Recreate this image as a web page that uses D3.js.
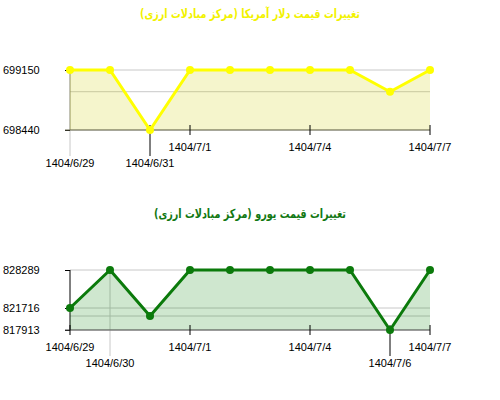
<!DOCTYPE html>
<html>
<head>
<meta charset="utf-8">
<script src="https://cdn.jsdelivr.net/npm/d3@7"></script>
<style>
  body { margin: 0; background: #fff; }
  svg { display: block; }
  text { font-family: "Liberation Sans", Arial, sans-serif; font-size: 11px; fill: #000; }
  .title { font-family: Tahoma, "DejaVu Sans", sans-serif; font-size: 12.5px; font-weight: bold; }
</style>
</head>
<body>
<svg id="chart" width="500" height="400"></svg>
<script>
// dates shared by both charts
const dates = ["1404/6/29", "1404/6/30", "1404/6/31", "1404/7/1", "1404/7/2",
               "1404/7/3", "1404/7/4", "1404/7/5", "1404/7/6", "1404/7/7"];

// dollar (top chart)
const usdTitle = "تغییرات قیمت دلار آمریکا (مرکز مبادلات ارزی)";
const usdValues = [699150, 699150, 698440, 699150, 699150, 699150, 699150, 699150, 698893, 699150];

// euro (bottom chart)
const eurTitle = "تغییرات قیمت یورو (مرکز مبادلات ارزی)";
const eurValues = [821716, 828289, 820334, 828289, 828289, 828289, 828289, 828289, 817913, 828289];

// regular x ticks every 3 days
const regularTicks = ["1404/6/29", "1404/7/1", "1404/7/4", "1404/7/7"];

const svg = d3.select("#chart");

const drawChart = ({ top, title, titleWidth, values, line, fill, titleColor, axisColor, leftColor }) => {
    const plotTop = top + 70, plotBottom = top + 130;
    const g = svg.append("g");

    const x = d3.scalePoint().domain(dates).range([70, 430]);
    const y = d3.scaleLinear().domain(d3.extent(values)).range([plotBottom, plotTop]);
    const data = dates.map((d, i) => ({ d, v: values[i] }));

    // title
    g.append("text").attr("class", "title")
        .attr("x", 250).attr("y", top + 18)
        .attr("text-anchor", "middle")
        .attr("direction", "rtl")
        .attr("textLength", titleWidth)
        .attr("lengthAdjust", "spacingAndGlyphs")
        .style("fill", titleColor)
        .text(title);

    // horizontal grid at every distinct value
    const distinct = Array.from(new Set(values));
    g.selectAll(".grid").data(distinct).join("line")
        .attr("x1", 70).attr("x2", 430)
        .attr("y1", d => y(d)).attr("y2", d => y(d))
        .attr("stroke", "#c8c8c8");

    // max / min positions
    const maxI = values.indexOf(d3.max(values));
    const minI = values.indexOf(d3.min(values));

    // left axis
    g.append("line")
        .attr("x1", 70).attr("x2", 70)
        .attr("y1", plotTop).attr("y2", plotBottom)
        .attr("stroke", leftColor);

    // gray leader from plot top for max
    g.append("line")
        .attr("x1", x(dates[maxI])).attr("x2", x(dates[maxI]))
        .attr("y1", maxI === 0 ? plotBottom : plotTop).attr("y2", plotBottom + 26)
        .attr("stroke", "#c8c8c8");

    // y ticks: first, last, max, min
    const yTicks = Array.from(new Set([values[0], values[values.length - 1], d3.max(values), d3.min(values)]));
    const yAxis = d3.axisLeft(y).tickValues(yTicks).tickSize(5).tickFormat(d3.format("d"));
    const ya = g.append("g").attr("transform", "translate(70,0)").call(yAxis);
    ya.select(".domain").remove();
    ya.selectAll("line").attr("stroke", "#000");
    ya.selectAll("text").attr("x", -67).attr("text-anchor", "start").attr("dy", "0.35em");

    // area
    const area = d3.area().x(d => x(d.d)).y0(plotBottom).y1(d => y(d.v));
    g.append("path").datum(data).attr("d", area).attr("fill", fill);

    // bottom axis line
    g.append("line")
        .attr("x1", 65).attr("x2", 430)
        .attr("y1", plotBottom).attr("y2", plotBottom)
        .attr("stroke", axisColor);

    // x labels
    const labels = regularTicks.filter(d => d !== dates[maxI] && d !== dates[minI])
        .map(d => ({ d, row: 1, lead: false }));
    labels.push({ d: dates[maxI], row: 2, lead: false });
    labels.push({ d: dates[minI], row: 2, lead: true });

    g.selectAll(".xt").data(labels.filter(l => l.row === 1)).join("line")
        .attr("x1", l => x(l.d)).attr("x2", l => x(l.d))
        .attr("y1", plotBottom - 5).attr("y2", plotBottom + 5)
        .attr("stroke", "#000");
    g.selectAll(".xl").data(labels.filter(l => l.lead)).join("line")
        .attr("x1", l => x(l.d)).attr("x2", l => x(l.d))
        .attr("y1", plotBottom - 5).attr("y2", plotBottom + 26)
        .attr("stroke", "#000");
    g.selectAll(".xlab").data(labels).join("text")
        .attr("x", l => x(l.d))
        .attr("y", l => plotBottom + (l.row === 1 ? 21 : 37))
        .attr("text-anchor", "middle")
        .text(l => l.d);

    // line + markers
    g.append("path").datum(data)
        .attr("d", d3.line().x(d => x(d.d)).y(d => y(d.v)))
        .attr("fill", "none").attr("stroke", line).attr("stroke-width", 3)
        .attr("stroke-linejoin", "round");
    g.selectAll(".pt").data(data).join("circle")
        .attr("cx", d => x(d.d)).attr("cy", d => y(d.v))
        .attr("r", 4).attr("fill", line);
};

drawChart({ top: 0, title: usdTitle, titleWidth: 220, values: usdValues,
    line: "#ffff00", fill: "rgba(204,204,0,0.2)", titleColor: "#f2f200",
    axisColor: "#6b6b50", leftColor: "#85856a" });
drawChart({ top: 200, title: eurTitle, titleWidth: 192, values: eurValues,
    line: "#0b7a0b", fill: "rgba(0,128,0,0.19)", titleColor: "#127812",
    axisColor: "#555", leftColor: "#000" });
</script>
</body>
</html>
